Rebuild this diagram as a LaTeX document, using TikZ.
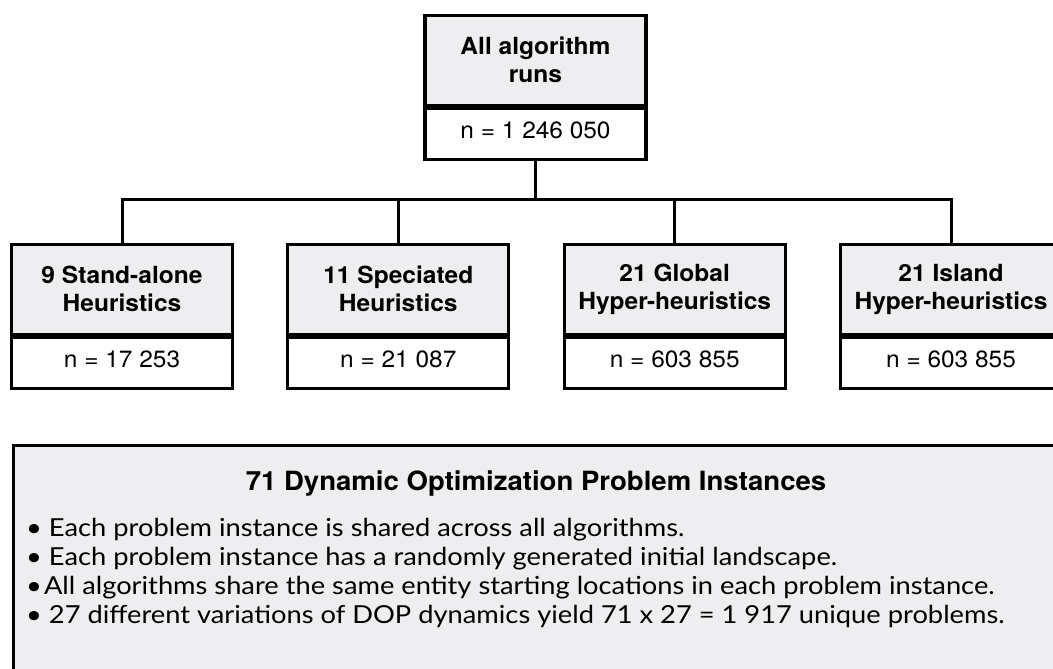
\documentclass[tikz,border=0pt]{standalone}
\usepackage{fontspec}
\setmainfont{TeX Gyre Heros}[FakeStretch=1.04]
\newfontfamily\listfont{Lato}[FakeStretch=1.1]
\usetikzlibrary{calc, positioning}
\definecolor{headgray}{HTML}{EEEDF0}

\begin{document}
\begin{tikzpicture}[x=1pt,y=-1pt,
	headbox/.style={draw, line width=3.3pt, fill=headgray, minimum width=221pt, minimum height=90pt, inner sep=0pt, align=center, font=\fontsize{23.6}{28}\selectfont\bfseries},
	countbox/.style={draw, line width=3.3pt, fill=white, minimum width=221pt, minimum height=51pt, inner sep=0pt, text height=15pt, text depth=6pt, font=\fontsize{23.5}{28}\selectfont},
	link/.style={line width=3pt},
	listline/.style={anchor=base west, inner sep=0pt, font=\listfont\fontsize{24.8}{29}\selectfont}]
				\useasboundingbox (0,0) rectangle (1053,669);
				\clip (0,0) rectangle (1053,669);
				%Top box with all runs
				\node [headbox, anchor=north] (allruns) at (535.5,13.6) {All algorithm\\runs};
				\node [countbox, anchor=north] (allrunsn) at (allruns.south) {n = 1 246 050};
				%The four algorithm groups
				\node [headbox, anchor=north] (standalone) at (122,242.6) {9 Stand-alone\\Heuristics};
				\node [headbox, anchor=north] (speciated) at (398.3,242.6) {11 Speciated\\Heuristics};
				\node [headbox, anchor=north] (global) at (674.7,242.6) {21 Global\\Hyper-heuristics};
				\node [headbox, anchor=north] (island) at (951,242.6) {21 Island\\Hyper-heuristics};
				\node [countbox, anchor=north] (standalonen) at (standalone.south) {n = 17 253};
				\node [countbox, anchor=north] (speciatedn) at (speciated.south) {n = 21 087};
				\node [countbox, anchor=north] (globaln) at (global.south) {n = 603 855};
				\node [countbox, anchor=north] (islandn) at (island.south) {n = 603 855};
				%Tree lines
				\coordinate (split) at (535.5,199);
				\draw [link] (allrunsn.south) -- (split);
				\foreach \g in {standalone, speciated, global, island} {
					\draw [link] (split) -| (\g.north);
				}
				%Problem instances panel
				\node [draw, line width=3.3pt, fill=headgray, anchor=north west, minimum width=1060pt, minimum height=260pt] (problems) at (11.5,443.6) {};
				\node [anchor=base, inner sep=0pt, font=\fontsize{26.5}{30}\selectfont\bfseries] (probtitle) at (536,490.7) {71 Dynamic Optimization Problem Instances};
				\node [listline] (item1) at (26,536) {• Each problem instance is shared across all algorithms.};
				\node [listline] (item2) at (26,565) {• Each problem instance has a randomly generated initial landscape.};
				\node [listline] (item3) at (26,594) {•\hspace{2pt}All algorithms share the same entity starting locations in each problem instance.};
				\node [listline] (item4) at (26,623) {• 27 different variations of DOP dynamics yield 71 x 27 = 1 917 unique problems.};
\end{tikzpicture}
\end{document}
